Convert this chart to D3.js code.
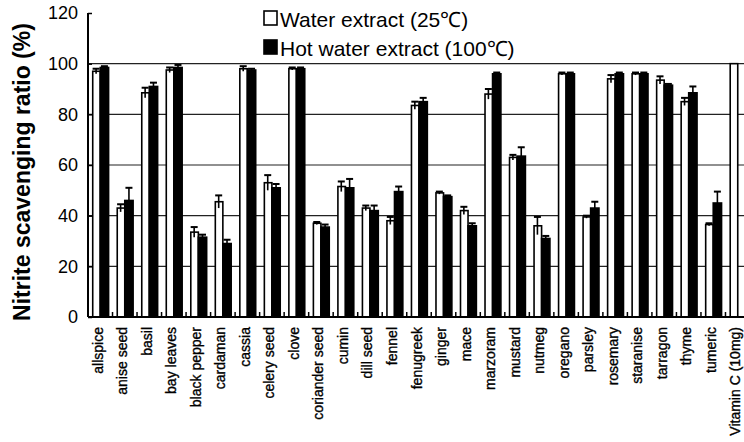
<!DOCTYPE html>
<html>
<head>
<meta charset="utf-8">
<script src="https://cdn.jsdelivr.net/npm/d3@7"></script>
<style>
  html, body { margin: 0; padding: 0; background: #fff; }
  svg { display: block; font-family: "Liberation Sans", Arial, Helvetica, sans-serif; }
</style>
</head>
<body>
<svg id="chart" width="744" height="442"></svg>
<script>
// Spice extracts: nitrite scavenging ratio (%)
const categories = [
  "allspice", "anise seed", "basil", "bay leaves", "black pepper", "cardaman",
  "cassia", "celery seed", "clove", "coriander seed", "cumin", "dill seed",
  "fennel", "fenugreek", "ginger", "mace", "marzoram", "mustard", "nutmeg",
  "oregano", "parsley", "rosemary", "staranise", "tarragon", "thyme",
  "tumeric", "Vitamin C (10mg)"
];
const seriesNames = ["Water extract (25\u2103)", "Hot water extract (100\u2103)"];

const waterValues = [97, 43, 88.5, 97.5, 33.5, 45.5, 98, 53, 98, 37, 51.5, 43,
  38, 83.5, 49, 42, 88, 63, 36, 96, 39.5, 94, 96, 93.5, 85, 36.5, 100];
const waterErrors = [1, 1.5, 2, 1, 2, 2.5, 1, 3, 0.5, 0.5, 2, 1,
  1.5, 1.5, 0.5, 1.5, 2, 1, 3.5, 0.5, 0.5, 1.5, 0.5, 1.5, 1.5, 0.5, 0];

const hotValues = [98.5, 46, 91, 98.5, 31.5, 29, 97.5, 51, 98, 35.5, 51, 42,
  49.5, 85, 47.5, 36, 96, 63.5, 31, 96, 43, 96, 96, 91.5, 88.5, 45, null];
const hotErrors = [0.5, 5, 1.5, 1, 1, 1.5, 0.5, 1.5, 0.5, 1, 3.5, 2,
  2, 1.5, 0.5, 1, 0.5, 3.5, 1, 0.5, 2.5, 0.5, 0.5, 0.5, 2.5, 4.5, 0];

const yTicks = [0, 20, 40, 60, 80, 100, 120];
const yTitle = "Nitrite scavenging ratio (%)";

const svg = d3.select("#chart");
const plotLeft = 88, plotRight = 750, plotTop = 13, plotBottom = 317;

const x0 = d3.scaleBand().domain(categories).range([plotLeft, plotRight])
  .paddingInner(0.32).paddingOuter(0.16).align(0.5);
const x1 = d3.scaleBand().domain(["water", "hot"]).range([0, x0.bandwidth()]);
const y = d3.scaleLinear().domain([0, 120]).range([plotBottom, plotTop]);

// horizontal gridlines
svg.append("g").selectAll("line")
  .data(yTicks.filter(t => t > 0 && t < 120))
  .join("line")
  .attr("x1", plotLeft).attr("x2", plotRight)
  .attr("y1", d => y(d)).attr("y2", d => y(d))
  .attr("stroke", "#222").attr("stroke-width", 1.1);

// one row per category
const rows = categories.map((c, i) => ({
  cat: c,
  bars: [
    { key: "water", v: waterValues[i], e: waterErrors[i] },
    { key: "hot", v: hotValues[i], e: hotErrors[i] }
  ].filter(b => b.v != null)
}));

const groups = svg.append("g").selectAll("g")
  .data(rows).join("g")
  .attr("transform", d => `translate(${x0(d.cat)},0)`);

// upper error bars with caps
groups.selectAll("g.err")
  .data(d => d.bars.filter(b => b.e > 0))
  .join("g").attr("class", "err")
  .each(function (b) {
    const g = d3.select(this);
    const cx = x1(b.key) + x1.bandwidth() / 2;
    g.append("line")
      .attr("x1", cx).attr("x2", cx)
      .attr("y1", y(b.v)).attr("y2", y(b.v + b.e))
      .attr("stroke", "#000").attr("stroke-width", 1.6);
    g.append("line")
      .attr("x1", cx - 3.5).attr("x2", cx + 3.5)
      .attr("y1", y(b.v + b.e)).attr("y2", y(b.v + b.e))
      .attr("stroke", "#000").attr("stroke-width", 2);
  });

groups.selectAll("rect")
  .data(d => d.bars)
  .join("rect")
  .attr("x", b => x1(b.key) + (b.key === "water" ? 0.8 : 0))
  .attr("width", b => x1.bandwidth() - (b.key === "water" ? 0.8 : 0))
  .attr("y", b => y(b.v))
  .attr("height", b => y(0) - y(b.v))
  .attr("fill", b => b.key === "water" ? "#fff" : "#000")
  .attr("stroke", "#000")
  .attr("stroke-width", 1.6);

// lower error halves inside the white bars
groups.selectAll("line.inner")
  .data(d => d.bars.filter(b => b.key === "water" && b.e > 0))
  .join("line").attr("class", "inner")
  .attr("x1", b => x1(b.key) + x1.bandwidth() / 2)
  .attr("x2", b => x1(b.key) + x1.bandwidth() / 2)
  .attr("y1", b => y(b.v))
  .attr("y2", b => y(b.v - b.e))
  .attr("stroke", "#000").attr("stroke-width", 1.6);

// y axis
const yAxis = d3.axisLeft(y).tickValues(yTicks).tickSize(-4).tickPadding(10);
const ya = svg.append("g").attr("transform", `translate(${plotLeft},0)`).call(yAxis);
ya.select(".domain").attr("stroke", "#000").attr("stroke-width", 2)
  .attr("d", `M0,${plotTop}V${plotBottom}`);
ya.selectAll(".tick line").attr("stroke", "#000").attr("stroke-width", 1.5);
ya.selectAll(".tick text")
  .attr("font-size", 18).attr("fill", "#000")
  .attr("font-family", "'Liberation Sans', Arial, sans-serif");

// x axis: baseline with small ticks at category boundaries
const step = x0.step();
const boundaries = d3.range(categories.length + 1).map(i => plotLeft + i * step);
svg.append("line")
  .attr("x1", plotLeft).attr("x2", plotRight).attr("y1", plotBottom).attr("y2", plotBottom)
  .attr("stroke", "#000").attr("stroke-width", 2.2);
svg.append("g").selectAll("line").data(boundaries).join("line")
  .attr("x1", d => d).attr("x2", d => d)
  .attr("y1", plotBottom).attr("y2", plotBottom - 5)
  .attr("stroke", "#000").attr("stroke-width", 1.5);

// category labels
svg.append("g").selectAll("text").data(categories).join("text")
  .attr("transform", d => `translate(${x0(d) + x0.bandwidth() / 2 - 1},327) rotate(-90)`)
  .attr("text-anchor", "end").attr("dy", "0.25em")
  .attr("font-size", 14).attr("fill", "#000")
  .attr("stroke", "#000").attr("stroke-width", 0.35)
  .text(d => d);

// y title
svg.append("text")
  .attr("transform", "translate(22,172) rotate(-90)")
  .attr("text-anchor", "middle").attr("dy", "0.35em")
  .attr("font-size", 23).attr("font-weight", "bold").attr("fill", "#000")
  .text(yTitle);

// legend
const legend = svg.append("g");
const legendRows = [
  { name: seriesNames[0], fill: "#fff", y: 11 },
  { name: seriesNames[1], fill: "#000", y: 40 }
];
legendRows.forEach(r => {
  legend.append("rect").attr("x", 264).attr("y", r.y).attr("width", 13).attr("height", 14)
    .attr("fill", r.fill).attr("stroke", "#000").attr("stroke-width", 1.6);
  legend.append("text").attr("x", 280).attr("y", r.y + 15.5)
    .attr("font-size", 21).attr("fill", "#000").text(r.name);
});
</script>
</body>
</html>
